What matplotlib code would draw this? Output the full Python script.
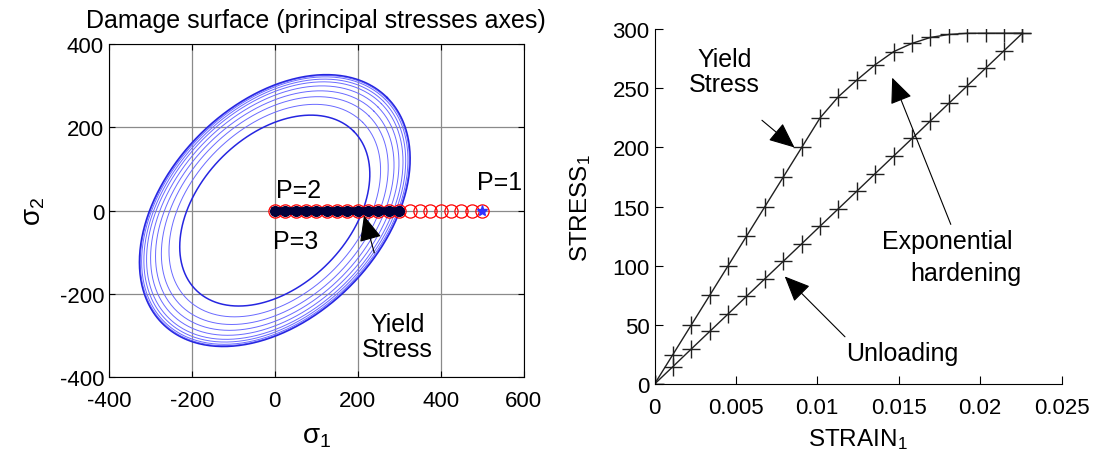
import numpy as np
import matplotlib
matplotlib.use("Agg")
import matplotlib.pyplot as plt

plt.rcParams['font.family'] = ['Liberation Sans', 'DejaVu Sans']
plt.rcParams['mathtext.fontset'] = 'custom'
plt.rcParams['mathtext.rm'] = 'Liberation Sans'
plt.rcParams['mathtext.it'] = 'Liberation Sans'
plt.rcParams['axes.unicode_minus'] = False

# Loading / unloading history (strain, stress)
load_strain = [0, 0.00113, 0.00226, 0.00339, 0.00452, 0.00565, 0.00678, 0.00791, 0.00904,
               0.01017, 0.0113, 0.01243, 0.01356, 0.01469, 0.01582, 0.01695, 0.01808,
               0.01921, 0.02034, 0.02147, 0.0226]
load_stress = [0, 25, 50, 75, 100, 125, 150, 175, 200, 225, 243, 257, 270, 281, 288,
               293, 295.5, 296.5, 296.6, 296.6, 296.6]
unload_strain = [0.0226, 0.02147, 0.02034, 0.01921, 0.01808, 0.01695, 0.01582, 0.01469,
                 0.01356, 0.01243, 0.0113, 0.01017, 0.00904, 0.00791, 0.00678, 0.00565,
                 0.00452, 0.00339, 0.00226, 0.00113, 0]
unload_stress = [296.6, 281.8, 267.0, 252.1, 237.3, 222.5, 207.6, 192.8, 178.0, 163.1,
                 148.3, 133.5, 118.6, 103.8, 89.0, 74.2, 59.3, 44.5, 29.7, 14.8, 0]

# Size of each damage surface on the sigma_1 axis, and the coupling term
surface_stress = [212, 236, 253, 266, 277, 286, 292, 297, 300, 302]
coupling = 0.38

# Stress paths along sigma_1
path1_sigma1 = [0, 25, 50, 75, 100, 125, 150, 175, 200, 225, 250, 275, 300, 325, 350,
                375, 400, 425, 450, 475, 500]
path3_sigma1 = [0, 25, 50, 75, 100, 125, 150, 175, 200, 225, 250, 275, 300]

fig = plt.figure(figsize=(11, 4.64), dpi=100)

# ---- left: damage surfaces  s1^2 - 2a s1 s2 + s2^2 = s^2 ----
ax1 = fig.add_axes([0.099, 0.185, 0.377, 0.718])
t = np.linspace(0, 2 * np.pi, 400)
for i, s in enumerate(surface_stress):
    u = s * np.cos(t) / np.sqrt(1 - coupling)
    v = s * np.sin(t) / np.sqrt(1 + coupling)
    s1 = (u + v) / np.sqrt(2)
    s2 = (u - v) / np.sqrt(2)
    edge = i == 0 or i == len(surface_stress) - 1
    ax1.plot(s1, s2, color='#2525e0' if edge else '#6a6aff', lw=1.1 if edge else 0.7)

ax1.plot(path1_sigma1, np.zeros(len(path1_sigma1)), 'o', mfc='none', mec='red',
         ms=9.5, mew=0.9)
ax1.plot(path3_sigma1, np.zeros(len(path3_sigma1)), '-o', color='#00003a', lw=5.5, ms=7)
ax1.plot([500], [0], '*', color='#3030ff', ms=8)

ax1.text(2, 50, 'P=2', fontsize=18, va='center')
ax1.text(-5, -72, 'P=3', fontsize=18, va='center')
ax1.text(488, 68, 'P=1', fontsize=18, va='center')
ax1.annotate('Yield\nStress', xy=(215, -12), xytext=(296, -302),
             fontsize=18, ha='center', va='center', linespacing=1.05,
             arrowprops=dict(arrowstyle='-|>,head_length=0.8,head_width=0.35',
                             color='black', lw=0.8, mutation_scale=20,
                             shrinkA=42, shrinkB=0))

ax1.set_xlim(-400, 600)
ax1.set_ylim(-400, 400)
ax1.set_xticks([-400, -200, 0, 200, 400, 600])
ax1.set_yticks([-400, -200, 0, 200, 400])
ax1.grid(True, color='#8a8a8a', lw=0.9)
ax1.set_axisbelow(True)
ax1.tick_params(direction='in', labelsize=16, top=True, right=True, length=4)
ax1.tick_params(axis='x', pad=9)
ax1.set_title('Damage surface (principal stresses axes)', fontsize=18, pad=12)
ax1.set_xlabel(r'$\sigma_1$', fontsize=20, labelpad=9)
ax1.set_ylabel(r'$\sigma_2$', fontsize=20, labelpad=9)

# ---- right: stress-strain response ----
ax2 = fig.add_axes([0.595, 0.170, 0.370, 0.765])
ax2.plot(load_strain, load_stress, '-+', color='#202020', lw=1, ms=13, mew=1)
ax2.plot(unload_strain, unload_stress, '-+', color='#202020', lw=1, ms=13, mew=1)

arrow = dict(arrowstyle='-|>,head_length=0.8,head_width=0.35', color='black',
             lw=0.8, mutation_scale=20, shrinkA=0, shrinkB=0)
ax2.annotate('', xy=(0.0086, 200), xytext=(0.0066, 223), arrowprops=arrow)
ax2.text(0.0043, 264, 'Yield\nStress', fontsize=18, ha='center', va='center',
         linespacing=1.05)
ax2.annotate('', xy=(0.0146, 259), xytext=(0.0182, 135), arrowprops=arrow)
ax2.text(0.0180, 121, 'Exponential', fontsize=18, ha='center', va='center')
ax2.text(0.0191, 94, 'hardening', fontsize=18, ha='center', va='center')
ax2.annotate('', xy=(0.0080, 91), xytext=(0.0117, 40), arrowprops=arrow)
ax2.text(0.0152, 26, 'Unloading', fontsize=18, ha='center', va='center')

ax2.set_xlim(0, 0.025)
ax2.set_ylim(0, 300)
ax2.set_xticks([0, 0.005, 0.01, 0.015, 0.02, 0.025])
ax2.set_xticklabels(['0', '0.005', '0.01', '0.015', '0.02', '0.025'])
ax2.set_yticks([0, 50, 100, 150, 200, 250, 300])
ax2.spines['top'].set_visible(False)
ax2.spines['right'].set_visible(False)
ax2.tick_params(direction='in', labelsize=16, length=6)
ax2.tick_params(axis='x', pad=9)
ax2.set_xlabel(r'STRAIN$_1$', fontsize=17.5, labelpad=6)
ax2.set_ylabel(r'STRESS$_1$', fontsize=17.5, labelpad=14)

fig.savefig('out.png', dpi=100)
